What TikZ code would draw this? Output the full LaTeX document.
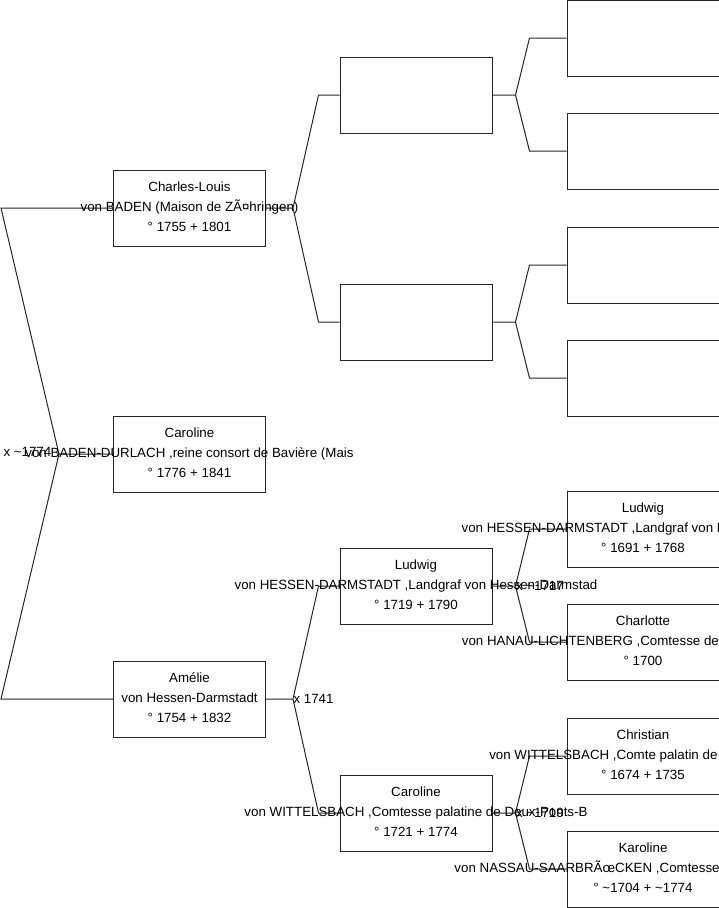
\documentclass[tikz,border=0pt]{standalone}
\usepackage{fontspec}
\setmainfont{Liberation Sans}

\begin{document}
\begin{tikzpicture}[x=1pt,y=-1pt,line width=1pt,black!85,
  box/.style={draw,minimum width=152pt,minimum height=76pt,inner sep=0pt},
  txt/.style={inner sep=0pt,align=center,yshift=1pt,text=black,font=\fontsize{13.33}{20}\selectfont},
  mar/.style={anchor=west,inner sep=0pt,text=black,font=\fontsize{13.33}{16}\selectfont}]
  \useasboundingbox (0,0) rectangle (719,908);
  \clip (0,0) rectangle (719,908);
  % cadres
  \foreach \n/\x/\y in {1/189.5/454,2/189.5/208,3/189.5/699,
      4/416/95,5/416/322,6/416/586,7/416/813,
      8/643/38,9/643/151,10/643/265,11/643/378,12/643/529,13/643/642,14/643/756,15/643/869}
    \node[box] (s\n) at (\x,\y) {};
  % liens
  \draw (s1.west) -- ++(-54,0) coordinate (f1) -- ([xshift=-112]s2.west) -- (s2.west)
        (f1) -- ([xshift=-112]s3.west) -- (s3.west);
  \foreach \c/\a/\b/\f/\k in {2/4/5/27/21,3/6/7/27/21,4/8/9/23/37,5/10/11/23/37,6/12/13/23/37,7/14/15/23/37}
    \draw (s\c.east) -- ++(\f,0) coordinate (f\c) -- ([xshift=-\k]s\a.west) -- (s\a.west)
          (f\c) -- ([xshift=-\k]s\b.west) -- (s\b.west);
  % textes
  \node[txt] (t1) at (s1) {Caroline\\von BADEN-DURLACH ,reine consort de Bavière (Mais\\° 1776 + 1841};
  \node[txt] (t2) at (s2) {Charles-Louis\\von BADEN (Maison de ZÃ¤hringen)\\° 1755 + 1801};
  \node[txt] (t3) at (s3) {Amélie\\von Hessen-Darmstadt\\° 1754 + 1832};
  \node[txt] (t6) at (s6) {Ludwig\\von HESSEN-DARMSTADT ,Landgraf von Hessen-Darmstad\\° 1719 + 1790};
  \node[txt] (t7) at (s7) {Caroline\\von WITTELSBACH ,Comtesse palatine de Deux-Ponts-B\\° 1721 + 1774};
  \node[txt] (t12) at (s12) {Ludwig\\von HESSEN-DARMSTADT ,Landgraf von Hessen-Darmstad\\° 1691 + 1768};
  \node[txt] (t13) at (s13) {Charlotte\\von HANAU-LICHTENBERG ,Comtesse de Hanau-Lichtenbe\\° 1700};
  \node[txt] (t14) at (s14) {Christian\\von WITTELSBACH ,Comte palatin de Birkenfeld-Bi\\° 1674 + 1735};
  \node[txt] (t15) at (s15) {Karoline\\von NASSAU-SAARBRÃœCKEN ,Comtesse de Nassau-Saarbr\\° \textasciitilde1704 + \textasciitilde1774};
  % mariages
  \node[mar] (m1) at (3,452) {x \textasciitilde1774};
  \node[mar] (m3) at (f3) {x 1741};
  \node[mar] (m6) at (f6) {x \textasciitilde1717};
  \node[mar] (m7) at (f7) {x \textasciitilde1719};
\end{tikzpicture}
\end{document}
